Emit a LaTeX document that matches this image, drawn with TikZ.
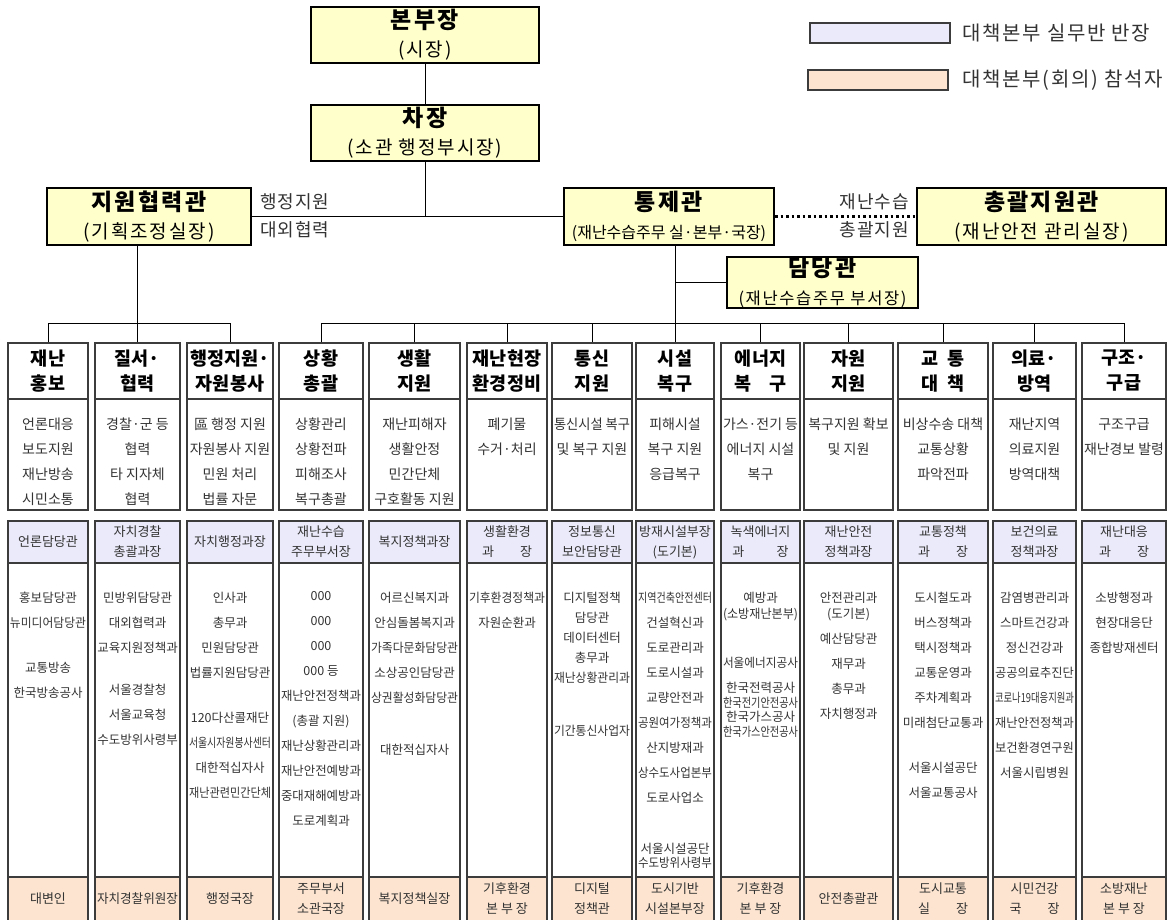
\documentclass[tikz,border=0pt]{standalone}
\usepackage{fontspec}
\setmainfont{Noto Sans CJK KR}
\usepackage{graphicx}
\usepackage{tikz}
\usetikzlibrary{positioning}
\definecolor{topyellow}{RGB}{255,255,204}
\definecolor{leadblue}{RGB}{234,234,250}
\definecolor{chiefpeach}{RGB}{252,228,208}
\definecolor{boxgray}{RGB}{60,60,60}
\tikzstyle{topbox}=[draw=black, line width=2pt, fill=topyellow, align=center, inner sep=0pt, font=\fontsize{19}{28}\selectfont\addfontfeature{LetterSpace=10}]
\tikzstyle{lab}=[inner sep=0pt, text=black!80, font=\fontsize{18}{20}\selectfont\addfontfeature{LetterSpace=5}]
\tikzstyle{link}=[draw=black, line width=1pt]
\tikzstyle{dotlink}=[draw=black, line width=2.5pt, dash pattern=on 2.5pt off 3pt]
\tikzstyle{legbox}=[draw=boxgray, line width=1.2pt, minimum width=140pt, minimum height=20pt, inner sep=0pt]
\tikzstyle{legtext}=[inner sep=0pt, text=black!80, font=\fontsize{20}{22}\selectfont\addfontfeature{LetterSpace=8}]
\tikzstyle{headbox}=[draw=boxgray, line width=1.2pt, minimum height=56pt, inner sep=0pt, align=center, font=\fontsize{18.5}{25}\selectfont\bfseries]
\tikzstyle{taskbox}=[draw=boxgray, line width=1.2pt, minimum height=111pt, inner sep=0pt]
\tikzstyle{tasktext}=[anchor=north, inner sep=0pt, align=center, text=black!80, font=\fontsize{14}{25}\selectfont]
\tikzstyle{leadbox}=[draw=boxgray, line width=1.2pt, fill=leadblue, minimum height=42pt, inner sep=0pt, align=center, text=black!80, font=\fontsize{13}{20}\selectfont]
\tikzstyle{unitbox}=[draw=boxgray, line width=1.2pt, minimum height=314pt, inner sep=0pt]
\tikzstyle{unittext}=[anchor=north, inner sep=0pt, align=center, text=black!80, font=\fontsize{12.5}{25}\selectfont]
\tikzstyle{chiefbox}=[draw=boxgray, line width=1.2pt, fill=chiefpeach, minimum height=44pt, inner sep=0pt, align=center, text=black!80, font=\fontsize{13}{20}\selectfont]
\newcommand{\ttl}[1]{{\fontsize{23}{28}\selectfont\bfseries #1}}
% squeeze a line that is wider than its column
\newlength\cellw
\setlength\cellw{1000pt}
\newsavebox\cellbox
\newcommand{\fitcell}[1]{\sbox\cellbox{#1}\ifdim\wd\cellbox>\cellw\relax\resizebox{\cellw}{\height}{\usebox\cellbox}\else\usebox\cellbox\fi}
% one column: index, centre, width, head, tasks, lead, units, chief
\newcommand{\orgcol}[8]{%
  \setlength\cellw{#3pt}\addtolength\cellw{-4pt}%
  \node[headbox, minimum width=#3pt] (hd#1) at (#2,371) {#4};
  \node[taskbox, minimum width=#3pt] (tk#1) at (#2,454.5) {};
  \node[tasktext] (tt#1) at (#2,418) {#5};
  \node[leadbox, minimum width=#3pt] (ld#1) at (#2,542) {#6};
  \node[unitbox, minimum width=#3pt] (un#1) at (#2,720) {};
  \node[unittext] (ut#1) at (#2,591.5) {#7};
  \node[chiefbox, minimum width=#3pt] (ch#1) at (#2,899) {#8};
}

\begin{document}
\begin{tikzpicture}[x=1pt, y=-1pt]
  \useasboundingbox (0,0) rectangle (1169,920);
  %
  \node[topbox, minimum width=228pt, minimum height=56pt] (bbj) at (425,35) {\ttl{본부장}\\(시장)};
  \node[topbox, minimum width=228pt, minimum height=56pt] (cj) at (425,133) {\ttl{차장}\\(소관 행정부시장)};
  \node[topbox, minimum width=204pt, minimum height=57pt] (jw) at (149,216.5) {\ttl{지원협력관}\\(기획조정실장)};
  \node[topbox, minimum width=210pt, minimum height=57pt] (tj) at (669,216.5) {\ttl{통제관}\\{\fontsize{16}{28}\selectfont\addfontfeature{LetterSpace=0}(재난수습주무 실·본부·국장)}};
  \node[topbox, minimum width=249pt, minimum height=57pt] (cg) at (1041.5,216.5) {\ttl{총괄지원관}\\(재난안전 관리실장)};
  \node[topbox, minimum width=191pt, minimum height=51pt] (dd) at (822.5,282.5) {\ttl{담당관}\\{\fontsize{16.5}{28}\selectfont(재난수습주무 부서장)}};
  %
  \node[legbox, fill=leadblue] (lgb) at (880,33) {};
  \node[legtext, right=12pt of lgb] (lgbt) {대책본부 실무반 반장};
  \node[legbox, fill=chiefpeach] (lgo) at (878,80) {};
  \node[legtext, right=14pt of lgo] (lgot) {대책본부(회의) 참석자};
  %
  \node[lab, anchor=west] (adm) at (260,202) {행정지원};
  \node[lab, anchor=west] (ext) at (260,230) {대외협력};
  \node[lab, anchor=east] (rec) at (909,202) {재난수습};
  \node[lab, anchor=east] (sup) at (909,230) {총괄지원};
  %
  \orgcol{1}{48}{80}{재난\\홍보}
    {언론대응\\보도지원\\재난방송\\시민소통}
    {언론담당관}
    {홍보담당관\\\fitcell{뉴미디어담당관}\\[20pt]교통방송\\\fitcell{한국방송공사}}
    {대변인}
  \orgcol{2}{137.5}{85}{질서·\\협력}
    {경찰·군 등\\협력\\타 지자체\\협력}
    {자치경찰\\총괄과장}
    {\fitcell{민방위담당관}\\대외협력과\\\fitcell{교육지원정책과}\\[17pt]서울경찰청\\서울교육청\\\fitcell{수도방위사령부}}
    {\fitcell{자치경찰위원장}}
  \orgcol{3}{230}{86}{행정지원·\\자원봉사}
    {區 행정 지원\\\fitcell{자원봉사 지원}\\민원 처리\\법률 자문}
    {\fitcell{자치행정과장}}
    {인사과\\총무과\\민원담당관\\\fitcell{법률지원담당관}\\[20pt]\fitcell{120다산콜재단}\\\fitcell{서울시자원봉사센터}\\\fitcell{대한적십자사}\\\fitcell{재난관련민간단체}}
    {행정국장}
  \orgcol{4}{321}{84}{상황\\총괄}
    {상황관리\\상황전파\\피해조사\\복구총괄}
    {재난수습\\주무부서장}
    {000\\000\\000\\000 등\\\fitcell{재난안전정책과}\\(총괄 지원)\\\fitcell{재난상황관리과}\\\fitcell{재난안전예방과}\\\fitcell{중대재해예방과}\\도로계획과}
    {주무부서\\소관국장}
  \orgcol{5}{414.5}{91}{생활\\지원}
    {재난피해자\\생활안정\\민간단체\\\fitcell{구호활동 지원}}
    {\fitcell{복지정책과장}}
    {\fitcell{어르신복지과}\\\fitcell{안심돌봄복지과}\\\fitcell{가족다문화담당관}\\\fitcell{소상공인담당관}\\\fitcell{상권활성화담당관}\\[27pt]\fitcell{대한적십자사}}
    {\fitcell{복지정책실장}}
  \orgcol{6}{507}{80}{재난현장\\환경정비}
    {폐기물\\수거·처리}
    {생활환경\\과\hspace{2em}장}
    {\fitcell{기후환경정책과}\\자원순환과}
    {기후환경\\본 부 장}
  \orgcol{7}{592}{80}{통신\\지원}
    {\fitcell{통신시설 복구}\\\fitcell{및 복구 지원}}
    {정보통신\\보안담당관}
    {디지털정책\\[-5pt]담당관\\[-5pt]데이터센터\\[-5pt]총무과\\[-5pt]\fitcell{재난상황관리과}\\[28pt]\fitcell{기간통신사업자}}
    {디지털\\정책관}
  \orgcol{8}{675}{78}{시설\\복구}
    {피해시설\\복구 지원\\응급복구}
    {\fitcell{방재시설부장}\\(도기본)}
    {\fitcell{지역건축안전센터}\\건설혁신과\\도로관리과\\도로시설과\\교량안전과\\\fitcell{공원여가정책과}\\산지방재과\\\fitcell{상수도사업본부}\\도로사업소\\[26pt]\fitcell{서울시설공단}\\[-11pt]\fitcell{수도방위사령부}}
    {도시기반\\시설본부장}
  \orgcol{9}{760.5}{79}{에너지\\복\hspace{1em}구}
    {\fitcell{가스·전기 등}\\에너지 시설\\복구}
    {녹색에너지\\과\hspace{2.5em}장}
    {예방과\\[-9pt]\fitcell{(소방재난본부)}\\[24pt]\fitcell{서울에너지공사}\\\fitcell{한국전력공사}\\[-10pt]\fitcell{한국전기안전공사}\\[-11pt]\fitcell{한국가스공사}\\[-10pt]\fitcell{한국가스안전공사}}
    {기후환경\\본 부 장}
  \orgcol{10}{848.5}{89}{자원\\지원}
    {\fitcell{복구지원 확보}\\및 지원}
    {재난안전\\정책과장}
    {안전관리과\\[-9pt](도기본)\\예산담당관\\재무과\\총무과\\자치행정과}
    {안전총괄관}
  \orgcol{11}{943}{90}{교\hspace{0.5em}통\\대\hspace{0.5em}책}
    {\fitcell{비상수송 대책}\\교통상황\\파악전파}
    {교통정책\\과\hspace{2em}장}
    {도시철도과\\버스정책과\\택시정책과\\교통운영과\\주차계획과\\\fitcell{미래첨단교통과}\\[20pt]서울시설공단\\서울교통공사}
    {도시교통\\실\hspace{2em}장}
  \orgcol{12}{1034.5}{83}{의료·\\방역}
    {재난지역\\의료지원\\방역대책}
    {보건의료\\정책과장}
    {\fitcell{감염병관리과}\\\fitcell{스마트건강과}\\정신건강과\\\fitcell{공공의료추진단}\\\fitcell{코로나19대응지원과}\\\fitcell{재난안전정책과}\\\fitcell{보건환경연구원}\\\fitcell{서울시립병원}}
    {시민건강\\국\hspace{2em}장}
  \orgcol{13}{1124}{84}{구조·\\구급}
    {구조구급\\\fitcell{재난경보 발령}}
    {재난대응\\과\hspace{2em}장}
    {소방행정과\\현장대응단\\\fitcell{종합방재센터}}
    {소방재난\\본 부 장}
  %
  \coordinate (bus) at (0,323);
  \draw[link] (bbj) -- (cj);
  \draw[link] (cj.south) -- (cj.south |- jw.east);
  \draw[link] (jw.east) -- (tj.west);
  \draw[dotlink] (tj.east) -- (cg.west);
  \draw[link] (hd8.north) -- (hd8.north |- tj.south);
  \draw[link] (dd.west) -- (dd.west -| hd8.north);
  \draw[link] (hd2.north) -- (hd2.north |- jw.south);
  \draw[link] (hd1.north) |- (hd3.north |- bus) -- (hd3.north);
  \draw[link] (hd4.north) |- (hd13.north |- bus) -- (hd13.north);
  \foreach \i in {5,6,7,9,10,11,12}
    \draw[link] (hd\i.north) -- (hd\i.north |- bus);
\end{tikzpicture}
\end{document}
